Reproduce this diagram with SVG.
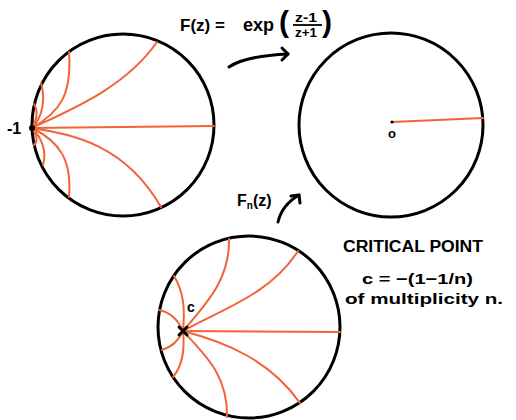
<svg xmlns="http://www.w3.org/2000/svg" width="516" height="420" viewBox="0 0 516 420">
<style>
.disk{fill:none;stroke:#000;stroke-width:3}
.ray{fill:none;stroke:#f26436;stroke-width:2;stroke-linecap:round}
.arr{fill:none;stroke:#000;stroke-width:3;stroke-linecap:round;stroke-linejoin:round}
.t{font-family:"Liberation Sans","DejaVu Sans",sans-serif;font-weight:bold;fill:#000}
</style>
<rect width="516" height="420" fill="#fff"/>
<g id="domain">
<circle class="disk" cx="123" cy="125" r="91"/>
<path class="ray" d="M32,128 L214,126"/>
<path class="ray" d="M32,128 C70,110 125,88 157,42"/>
<path class="ray" d="M32,128 C75,135 125,145 161,207"/>
<path class="ray" d="M32,128 C60,112 72,95 69,52"/>
<path class="ray" d="M32,128 C60,142 72,160 69,197"/>
<path class="ray" d="M32,128 C42,118 46,100 41,83"/>
<path class="ray" d="M32,128 C42,138 47,152 43,165"/>
<path class="ray" d="M32,128 C36,122 39,112 34,104"/>
<path class="ray" d="M32,128 C36,134 39,140 34,145"/>
<circle cx="32" cy="128" r="3" fill="#000"/>
<text class="t" x="7" y="134" font-size="16">-1</text>
</g>
<g id="target">
<circle class="disk" cx="391" cy="125" r="92"/>
<path class="ray" d="M392,122 L483,118"/>
<circle cx="392" cy="122" r="1.6" fill="#000"/>
<text class="t" x="388" y="138" font-size="13">o</text>
</g>
<g id="approx">
<circle class="disk" cx="249" cy="327" r="91"/>
<path class="ray" d="M183,331 L340,332"/>
<path class="ray" d="M183,331 C220,310 270,295 298,251"/>
<path class="ray" d="M183,331 C225,342 270,360 300,403"/>
<path class="ray" d="M183,331 C205,305 230,280 229,239"/>
<path class="ray" d="M183,331 C205,355 228,375 227,417"/>
<path class="ray" d="M183,331 C185,310 184,292 174,276"/>
<path class="ray" d="M183,331 C185,350 183,365 173,377"/>
<path class="ray" d="M159,310 C170,312 178,320 183,331"/>
<path class="ray" d="M162,350 C172,347 179,340 183,331"/>
<path class="arr" d="M179,327 L187,335 M179,335 L187,327"/>
<text class="t" x="187" y="312" font-size="14">c</text>
</g>
<g id="connectors">
<path class="arr" d="M229,67 Q245,56 288,54"/>
<path class="arr" d="M282,48 L288,54 L282,60"/>
<path class="arr" d="M278,222 Q282,205 299,195"/>
<path class="arr" d="M291,196 L299,195 L300,203"/>
</g>
<g id="formula">
<text class="t" x="180" y="31" font-size="17">F(z) =</text>
<text class="t" x="243" y="31" font-size="18">exp</text>
<text class="t" x="279" y="32" font-size="30" font-weight="normal">(</text>
<text class="t" x="295" y="22" font-size="12" textLength="22" lengthAdjust="spacingAndGlyphs">z-1</text>
<path d="M293,25 L322,25" stroke="#000" stroke-width="1.8"/>
<text class="t" x="295" y="37" font-size="12" textLength="22" lengthAdjust="spacingAndGlyphs">z+1</text>
<text class="t" x="322" y="32" font-size="30" font-weight="normal">)</text>
</g>
<g id="fn-label">
<text class="t" x="237" y="206" font-size="16">F<tspan font-size="10" dy="3">n</tspan><tspan dy="-3">(z)</tspan></text>
</g>
<g id="note">
<text class="t" x="343" y="252" font-size="16" textLength="140" lengthAdjust="spacingAndGlyphs">CRITICAL POINT</text>
<text class="t" x="362" y="284" font-size="15" textLength="111" lengthAdjust="spacingAndGlyphs">c = −(1−1/n)</text>
<text class="t" x="345" y="304" font-size="15" textLength="158" lengthAdjust="spacingAndGlyphs">of multiplicity n.</text>
</g>
</svg>
